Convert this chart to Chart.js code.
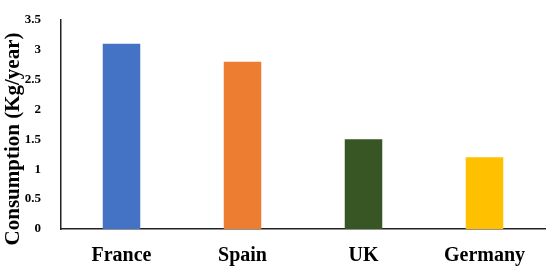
<!DOCTYPE html>
<html>
<head>
<meta charset="utf-8">
<script src="https://cdn.jsdelivr.net/npm/chart.js@4/dist/chart.umd.min.js"></script>
<style>
  html, body { margin: 0; padding: 0; background: #fff; }
  #wrap { width: 550px; height: 269px; position: relative; }
</style>
</head>
<body>
<div id="wrap"><canvas id="chart"></canvas></div>
<script>
// Consumption per country
const countries = ['France', 'Spain', 'UK', 'Germany'];
const consumption = [3.1, 2.8, 1.5, 1.2];
const barColors = ['#4472C4', '#ED7D31', '#375623', '#FFC000'];
const yTitle = 'Consumption (Kg/year)';

const serif = '"Liberation Serif", "Times New Roman", serif';

// y title drawn by hand so it sits where the original has it
const yTitlePlugin = {
  id: 'yTitle',
  afterDraw(chart) {
    const ctx = chart.ctx;
    ctx.save();
    ctx.translate(14, 139);
    ctx.rotate(-Math.PI / 2);
    ctx.font = 'bold 21px ' + serif;
    ctx.fillStyle = '#000';
    ctx.textAlign = 'center';
    ctx.textBaseline = 'middle';
    ctx.fillText(yTitle, 0, 0);
    ctx.restore();
  }
};

new Chart(document.getElementById('chart'), {
  type: 'bar',
  data: {
    labels: countries,
    datasets: [{
      data: consumption,
      backgroundColor: barColors,
      borderWidth: 0,
      categoryPercentage: 1,
      barPercentage: 0.31
    }]
  },
  options: {
    responsive: true,
    maintainAspectRatio: false,
    animation: false,
    layout: { padding: { top: 10, right: 5, left: 0, bottom: 0 } },
    plugins: { legend: { display: false }, tooltip: { enabled: false } },
    scales: {
      x: {
        grid: { display: false },
        border: { display: true, color: '#222', width: 1.5 },
        ticks: { color: '#000', padding: 7, font: { family: serif, size: 20, weight: 'bold' } },
        afterFit: s => { s.height = 40; }
      },
      y: {
        min: 0,
        max: 3.5,
        grid: { display: false },
        border: { display: true, color: '#222', width: 1.5 },
        ticks: {
          stepSize: 0.5, color: '#000', padding: 12,
          font: { family: serif, size: 13, weight: 'bold' },
          callback: v => String(v)
        },
        afterFit: s => { s.width = 61; }
      }
    }
  },
  plugins: [yTitlePlugin]
});
</script>
</body>
</html>
